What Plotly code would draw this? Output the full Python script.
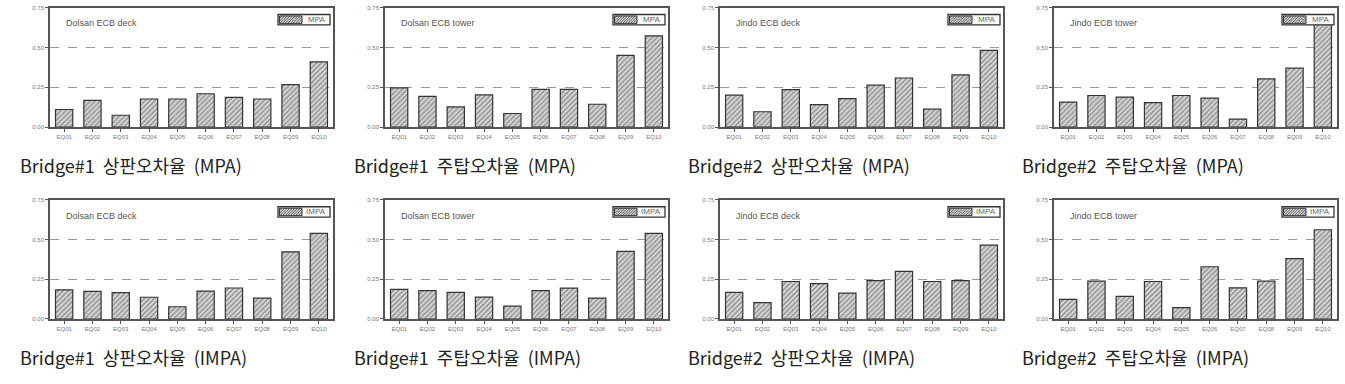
import plotly.graph_objects as go

categories = ["EQ01", "EQ02", "EQ03", "EQ04", "EQ05", "EQ06", "EQ07", "EQ08", "EQ09", "EQ10"]

dolsan_deck_mpa = [0.110, 0.167, 0.074, 0.176, 0.176, 0.209, 0.186, 0.176, 0.267, 0.409]
dolsan_tower_mpa = [0.246, 0.192, 0.126, 0.202, 0.085, 0.236, 0.236, 0.143, 0.450, 0.572]
jindo_deck_mpa = [0.200, 0.096, 0.235, 0.141, 0.178, 0.263, 0.308, 0.112, 0.327, 0.482]
jindo_tower_mpa = [0.157, 0.198, 0.188, 0.153, 0.198, 0.182, 0.050, 0.302, 0.370, 0.647]

dolsan_deck_impa = [0.183, 0.174, 0.166, 0.137, 0.077, 0.176, 0.195, 0.131, 0.423, 0.539]
dolsan_tower_impa = [0.186, 0.178, 0.167, 0.138, 0.081, 0.178, 0.194, 0.132, 0.426, 0.539]
jindo_deck_impa = [0.167, 0.103, 0.236, 0.223, 0.163, 0.242, 0.300, 0.236, 0.242, 0.465]
jindo_tower_impa = [0.124, 0.238, 0.143, 0.236, 0.072, 0.329, 0.196, 0.238, 0.380, 0.562]

panel_titles = ["Dolsan ECB deck", "Dolsan ECB tower", "Jindo ECB deck", "Jindo ECB tower"] * 2
series_names = ["MPA"] * 4 + ["IMPA"] * 4
captions = [
    "Bridge#1  상판오차율  (MPA)", "Bridge#1  주탑오차율  (MPA)",
    "Bridge#2  상판오차율  (MPA)", "Bridge#2  주탑오차율  (MPA)",
    "Bridge#1  상판오차율  (IMPA)", "Bridge#1  주탑오차율  (IMPA)",
    "Bridge#2  상판오차율  (IMPA)", "Bridge#2  주탑오차율  (IMPA)",
]
y_ticks = [0.0, 0.25, 0.5, 0.75]

series = [dolsan_deck_mpa, dolsan_tower_mpa, jindo_deck_mpa, jindo_tower_mpa,
          dolsan_deck_impa, dolsan_tower_impa, jindo_deck_impa, jindo_tower_impa]

W, H = 1345, 384
x_px = [(50, 333), (385, 668), (720, 1003), (1054, 1337)]
y_px = [(4.7, 126), (200, 321)]
cap_x = [18, 352, 686, 1020]
cap_y = [165, 360]

def px(x):
    return x / W

def py(y):
    return 1 - y / H

fig = go.Figure()
layout = dict(width=W, height=H, margin=dict(l=0, r=0, t=0, b=0),
              paper_bgcolor="white", plot_bgcolor="white", showlegend=False,
              annotations=[], shapes=[])

base_font = "Liberation Sans, Arial, sans-serif"
tick_font = dict(family=base_font, size=6, color="#777")

for i, vals in enumerate(series):
    r, c = divmod(i, 4)
    n = i + 1
    xa = "x" if n == 1 else f"x{n}"
    ya = "y" if n == 1 else f"y{n}"
    fig.add_trace(go.Bar(
        x=categories, y=vals, name=series_names[i], xaxis=xa, yaxis=ya,
        width=0.61,
        marker=dict(color="#d8d8d8",
                    line=dict(color="#333", width=1.2),
                    pattern=dict(shape="/", fgcolor="#444", bgcolor="#dcdcdc",
                                 size=3.5, solidity=0.45)),
    ))
    x0, x1 = x_px[c]
    yt, yb = y_px[r]
    layout[f"xaxis{'' if n == 1 else n}"] = dict(
        domain=[px(x0), px(x1)], anchor=ya, range=[-0.5, 9.5], type="category",
        showline=True, mirror=True, linecolor="#555", linewidth=1.5,
        ticks="outside", ticklen=3, tickcolor="#555", tickfont=tick_font,
        showgrid=False, fixedrange=True)
    layout[f"yaxis{'' if n == 1 else n}"] = dict(
        domain=[py(yb), py(yt)], anchor=xa, range=[0, 0.75], tickvals=y_ticks, tickformat=".2f",
        showline=True, mirror=True, linecolor="#555", linewidth=1.5,
        ticks="outside", ticklen=3, tickcolor="#555", tickfont=tick_font,
        showgrid=True, gridcolor="#999", griddash="dash", gridwidth=1,
        zeroline=False, fixedrange=True)

    # compact legend box like the original figure
    bl, br = x1 - 55, x1 - 3
    bt, bb = yt + 7, yt + 17.5
    layout["shapes"].append(dict(
        type="rect", xref="paper", yref="paper", layer="above",
        x0=px(bl), x1=px(br), y0=py(bb), y1=py(bt),
        fillcolor="white", line=dict(color="#333", width=1.3)))
    sl, sr, st, sb = bl + 1.5, bl + 24, bt + 1.5, bb - 1.5
    layout["shapes"].append(dict(
        type="rect", xref="paper", yref="paper", layer="above",
        x0=px(sl), x1=px(sr), y0=py(sb), y1=py(st),
        fillcolor="#d6d6d6", line=dict(color="#333", width=1)))
    hh = sb - st
    segs = []
    s = sl - hh
    while s < sr:
        t0 = max(0.0, sl - s)
        t1 = min(hh, sr - s)
        if t1 > t0:
            segs.append(f"M{px(s + t0):.5f},{py(sb - t0):.5f}L{px(s + t1):.5f},{py(sb - t1):.5f}")
        s += 2.6
    layout["shapes"].append(dict(
        type="path", xref="paper", yref="paper", layer="above",
        path="".join(segs), line=dict(color="#444", width=0.8)))
    layout["annotations"].append(dict(
        x=px((sr + br) / 2), y=py((bt + bb) / 2), xref="paper", yref="paper",
        xanchor="center", yanchor="middle", showarrow=False, text=series_names[i],
        font=dict(family=base_font, size=8, color="#666")))

    layout["annotations"].append(dict(
        x=px(x0 + 14), y=py(yt + 16), xref="paper", yref="paper",
        xanchor="left", yanchor="middle", showarrow=False, text=panel_titles[i],
        font=dict(family=base_font, size=9, color="#555")))
    layout["annotations"].append(dict(
        x=px(cap_x[c]), y=py(cap_y[r]), xref="paper", yref="paper",
        xanchor="left", yanchor="middle", showarrow=False, text=captions[i],
        font=dict(family="Liberation Sans Narrow, Arial Narrow, Noto Sans CJK KR, sans-serif",
                  size=18, color="#222")))

fig.update_layout(**layout)
fig.write_html("out.html")
